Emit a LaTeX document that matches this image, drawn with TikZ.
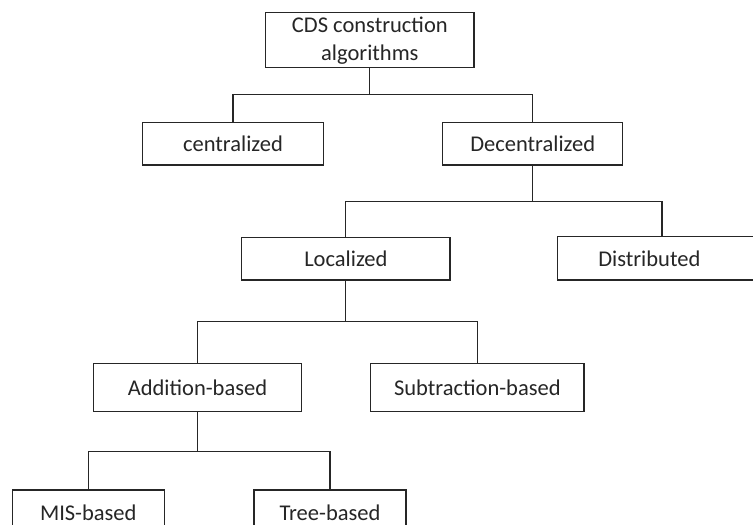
\documentclass[tikz,border=0pt]{standalone}
\usepackage{fontspec}
\setmainfont{Carlito}
\begin{document}
\begin{tikzpicture}[x=1pt,y=-1pt,
  box/.style={draw=black!85, line width=1.2pt, inner sep=0pt, align=center,
    font=\fontsize{22.5}{28}\selectfont, text=black!85, text height=16pt, text depth=0pt},
  conn/.style={draw=black!85, line width=1.2pt}]
\useasboundingbox (0,0) rectangle (753,525);
\clip (0,0) rectangle (753,525);
\fill[white] (0,0) rectangle (753,525);
\node[box, minimum width=208.3pt, minimum height=54.6pt, text height=44pt, text depth=2.6pt] (top) at (369.85,40) {CDS construction\\algorithms};
\node[box, minimum width=180.6pt, minimum height=42.7pt] (cent) at (233,143.65) {centralized};
\node[box, minimum width=180pt, minimum height=42.7pt] (dec) at (532.7,143.65) {Decentralized};
\node[box, minimum width=208.3pt, minimum height=42.3pt] (loc) at (345.85,258.85) {Localized};
\node[box, anchor=west, minimum height=43.3pt, text width=128pt, align=left, inner xsep=41pt] (dist) at (556.7,258.35) {Distributed};
\node[box, minimum width=208.4pt, minimum height=48.4pt] (add) at (197.5,387.5) {Addition-based};
\node[box, minimum width=213.3pt, minimum height=48.4pt] (sub) at (477.35,387.5) {Subtraction-based};
\node[box, minimum width=152pt, minimum height=44pt] (mis) at (88.3,512) {MIS-based};
\node[box, minimum width=152pt, minimum height=44pt] (tree) at (330,512) {Tree-based};
\coordinate (b1) at (0,94.3);
\coordinate (b2) at (0,201.7);
\coordinate (b3) at (0,321.7);
\coordinate (b4) at (0,451.7);
\coordinate (dtop) at (662,236.7);
\draw[conn] (top.south) -- (top.south |- b1);
\draw[conn] (cent.north) |- (dec.north |- b1) -- (dec.north);
\draw[conn] (dec.south) -- (dec.south |- b2);
\draw[conn] (loc.north) |- (dtop |- b2) -- (dtop);
\draw[conn] (loc.south) -- (loc.south |- b3);
\draw[conn] (add.north) |- (sub.north |- b3) -- (sub.north);
\draw[conn] (add.south) -- (add.south |- b4);
\draw[conn] (mis.north) |- (tree.north |- b4) -- (tree.north);
\end{tikzpicture}
\end{document}
